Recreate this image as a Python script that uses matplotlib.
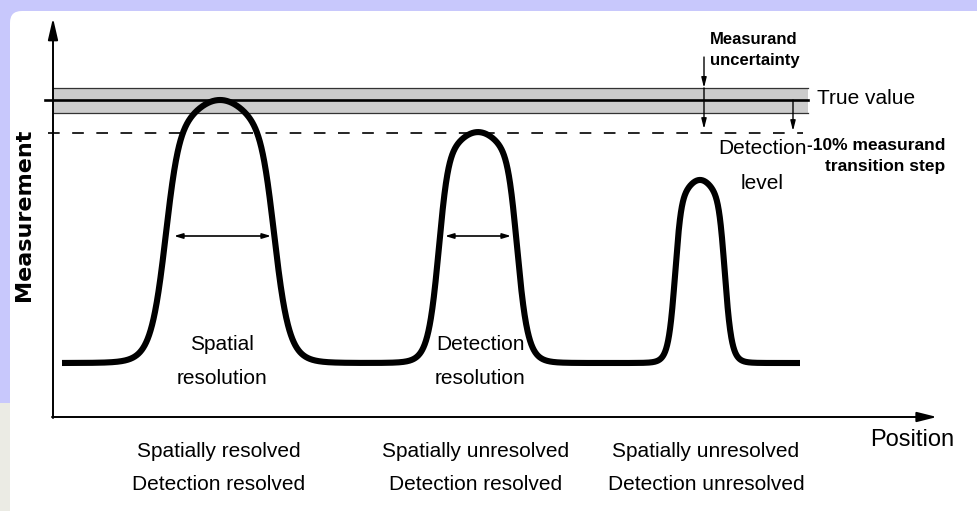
import matplotlib
matplotlib.use("Agg")
import matplotlib.pyplot as plt
from matplotlib.patches import FancyBboxPatch, Rectangle
import numpy as np

# schematic peaks
PEAK_POS = [220, 478, 700]
PEAK_HEIGHT = [1.0, 0.878, 0.696]     # relative to the true value
PEAK_HALFWIDTH = [57, 41, 26]         # edge position
PEAK_ROUNDNESS = [113, 90, 55]        # curvature of the top
EDGE_POWER = 8
CURVE_START, CURVE_END = 62, 800

TRUE_VALUE = 1.0
UNCERTAINTY = (0.951, 1.046)
DETECTION_LEVEL = 0.875

BOTTOM_LABELS = ["Spatially resolved\nDetection resolved",
                 "Spatially unresolved\nDetection resolved",
                 "Spatially unresolved\nDetection unresolved"]
BOTTOM_LABEL_X = [219, 476, 706]

NARROW = ["Liberation Sans Narrow", "Liberation Sans", "DejaVu Sans"]
W, H = 977, 511


def py(p):
    # pixel row -> measurement units (baseline 0, true value 1)
    return (363 - p) / 263


fig = plt.figure(figsize=(9.77, 5.11), dpi=100, facecolor="#c8c8fc")
fig.patches.append(Rectangle((0, 0), 10 / W, 108 / H, transform=fig.transFigure,
                             facecolor="#ebebe4", edgecolor="none", zorder=-10))
fig.patches.append(FancyBboxPatch((10 / W, -0.05), 1.1, 1 - 11 / H + 0.05,
                                  boxstyle="round,pad=0,rounding_size=0.012",
                                  transform=fig.transFigure, facecolor="white",
                                  edgecolor="none", mutation_aspect=W / H, zorder=-10))

ax = fig.add_axes([0, 0, 1, 1])
ax.set_xlim(0, W)
ax.set_ylim(py(H), py(0))
ax.axis("off")
ax.patch.set_alpha(0)

# uncertainty band and true value
ax.fill_between([53, 808], UNCERTAINTY[0], UNCERTAINTY[1], color="#cccccc", lw=0)
ax.plot([53, 808], [UNCERTAINTY[0]] * 2, color="#333333", lw=0.9)
ax.plot([53, 808], [UNCERTAINTY[1]] * 2, color="#333333", lw=0.9)
ax.plot([45, 808], [TRUE_VALUE] * 2, color="black", lw=1.9)
ax.plot([48, 803], [DETECTION_LEVEL] * 2, color="black", lw=1.2,
        linestyle=(0, (7, 7.5)))

# measurement curve
x = np.linspace(CURVE_START, CURVE_END, 3000)
y = np.zeros_like(x)
for c, h, a, r in zip(PEAK_POS, PEAK_HEIGHT, PEAK_HALFWIDTH, PEAK_ROUNDNESS):
    d = np.abs(x - c)
    y += h / (1 + (d / r) ** 2) / (1 + (d / a) ** EDGE_POWER)
ax.plot(x, y, color="black", lw=4.4, solid_capstyle="butt")

# axes arrows
ax.annotate("", xy=(53, py(18)), xytext=(53, py(418)),
            arrowprops=dict(arrowstyle="-|>,head_length=1.3,head_width=0.3",
                            color="black", lw=1.4, shrinkA=0, shrinkB=0))
ax.annotate("", xy=(937, py(417)), xytext=(52, py(417)),
            arrowprops=dict(arrowstyle="-|>,head_length=1.2,head_width=0.3",
                            color="black", lw=1.4, shrinkA=0, shrinkB=0))

# resolution arrows
res_arrow = dict(arrowstyle="<|-|>,head_length=0.5,head_width=0.15", color="black",
                 lw=1.2, shrinkA=0, shrinkB=0)
ax.annotate("", xy=(174, py(236)), xytext=(271, py(236)), arrowprops=res_arrow)
ax.annotate("", xy=(445, py(236)), xytext=(511, py(236)), arrowprops=res_arrow)

# uncertainty / detection arrows
down = dict(arrowstyle="-|>,head_length=0.6,head_width=0.15", color="black",
            lw=1.0, shrinkA=0, shrinkB=0)
ax.annotate("", xy=(704, UNCERTAINTY[1]), xytext=(704, py(57)), arrowprops=down)
ax.annotate("", xy=(704, py(129)), xytext=(704, UNCERTAINTY[1]), arrowprops=down)
ax.annotate("", xy=(793, py(131)), xytext=(793, TRUE_VALUE), arrowprops=down)

# texts
ax.text(24, py(215), "Measurement", rotation=90, ha="center", va="center",
        fontsize=16, fontweight="bold", family="DejaVu Sans")
ax.text(912, py(440), "Position", ha="center", va="center", fontsize=17, family=NARROW)
ax.text(817, py(99), "True value", ha="left", va="center", fontsize=15, family=NARROW)
ax.text(710, py(50), "Measurand\nuncertainty", ha="left", va="center", fontsize=12,
        fontweight="bold", family=NARROW, linespacing=1.5)
ax.text(945, py(156), "-10% measurand\ntransition step", ha="right", va="center",
        fontsize=12.5, fontweight="bold", family=NARROW, linespacing=1.5)
ax.text(762, py(166), "Detection\nlevel", ha="center", va="center", fontsize=15,
        family=NARROW, linespacing=2.1)
ax.text(222, py(361), "Spatial\nresolution", ha="center", va="center", fontsize=15,
        family=NARROW, linespacing=2.0)
ax.text(480, py(361), "Detection\nresolution", ha="center", va="center", fontsize=15,
        family=NARROW, linespacing=2.0)
for label, lx in zip(BOTTOM_LABELS, BOTTOM_LABEL_X):
    ax.text(lx, py(468), label, ha="center", va="center", fontsize=15,
            family=NARROW, linespacing=1.87)

fig.savefig("out.png", dpi=100, facecolor=fig.get_facecolor())
